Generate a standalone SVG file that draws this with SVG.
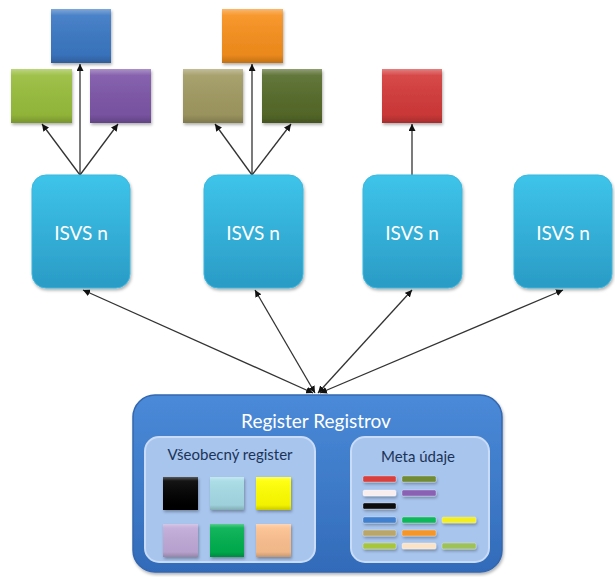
<svg xmlns="http://www.w3.org/2000/svg" width="615" height="577" viewBox="0 0 615 577">
<defs>
<style>
.isvs{fill:url(#gIsvs);stroke:#3bb8df;stroke-width:1;filter:url(#sh)}
.isvsT{font-family:Lato,"Open Sans","Liberation Sans",sans-serif;font-size:19px;fill:#ffffff;text-anchor:middle}
.sq{filter:url(#sh)}
.sheen{fill:url(#gSheen)}
.conn line{stroke:#333333;stroke-width:1.3;fill:none}
.inner{fill:#a8c5ee;stroke:#c9dbf6;stroke-width:2}
.innerT{font-family:Lato,"Open Sans","Liberation Sans",sans-serif;font-size:15px;fill:#1b3458;text-anchor:middle}
.bar{stroke:#ffffff;stroke-opacity:0.35;stroke-width:0.8}
</style>
<linearGradient id="gIsvs" x1="0" y1="0" x2="0" y2="1">
<stop offset="0" stop-color="#3ec4ea"/>
<stop offset="1" stop-color="#2a9bc5"/>
</linearGradient>
<linearGradient id="gBig" x1="0" y1="0" x2="0" y2="1">
<stop offset="0" stop-color="#4a8ad8"/>
<stop offset="1" stop-color="#326bb9"/>
</linearGradient>
<linearGradient id="gSheen" x1="0" y1="0" x2="0" y2="1">
<stop offset="0" stop-color="#ffffff" stop-opacity="0.35"/>
<stop offset="0.12" stop-color="#ffffff" stop-opacity="0.08"/>
<stop offset="0.85" stop-color="#000000" stop-opacity="0.05"/>
<stop offset="1" stop-color="#000000" stop-opacity="0.22"/>
</linearGradient>
<filter id="sh" x="-20%" y="-20%" width="140%" height="140%">
<feDropShadow dx="1" dy="2" stdDeviation="1.8" flood-color="#000000" flood-opacity="0.3"/>
</filter>
<marker id="arr" viewBox="0 0 10 10" refX="10" refY="5" markerWidth="7" markerHeight="7" markerUnits="userSpaceOnUse" orient="auto-start-reverse">
<path d="M0,0 L10,5 L0,10 z" fill="#111111"/>
</marker>
</defs>
<rect width="615" height="577" fill="#ffffff"/>

<g id="connectors" class="conn">
<line x1="80" y1="175" x2="80" y2="64" marker-end="url(#arr)"/>
<line x1="80" y1="175" x2="42" y2="124" marker-end="url(#arr)"/>
<line x1="80" y1="175" x2="118" y2="124" marker-end="url(#arr)"/>
<line x1="252" y1="175" x2="252" y2="64" marker-end="url(#arr)"/>
<line x1="252" y1="175" x2="215" y2="124" marker-end="url(#arr)"/>
<line x1="252" y1="175" x2="291" y2="124" marker-end="url(#arr)"/>
<line x1="412" y1="175" x2="412" y2="124" marker-end="url(#arr)"/>
<line x1="313" y1="393" x2="83" y2="290" marker-start="url(#arr)" marker-end="url(#arr)"/>
<line x1="315" y1="393" x2="255" y2="290" marker-start="url(#arr)" marker-end="url(#arr)"/>
<line x1="318" y1="393" x2="412" y2="290" marker-start="url(#arr)" marker-end="url(#arr)"/>
<line x1="320" y1="393" x2="563" y2="290" marker-start="url(#arr)" marker-end="url(#arr)"/>
</g>

<g id="sq-blue" class="sq"><rect x="51" y="9" width="60" height="54" fill="#3b78c4"/><rect x="51" y="9" width="60" height="54" class="sheen"/></g>
<g id="sq-green" class="sq"><rect x="11" y="69" width="61" height="54" fill="#98bd3c"/><rect x="11" y="69" width="61" height="54" class="sheen"/></g>
<g id="sq-purple" class="sq"><rect x="90" y="69" width="61" height="54" fill="#7d56a8"/><rect x="90" y="69" width="61" height="54" class="sheen"/></g>
<g id="sq-orange" class="sq"><rect x="222" y="9" width="61" height="54" fill="#f7901d"/><rect x="222" y="9" width="61" height="54" class="sheen"/></g>
<g id="sq-khaki" class="sq"><rect x="183" y="69" width="60" height="54" fill="#a19a62"/><rect x="183" y="69" width="60" height="54" class="sheen"/></g>
<g id="sq-dkgreen" class="sq"><rect x="262" y="69" width="60" height="54" fill="#566b2a"/><rect x="262" y="69" width="60" height="54" class="sheen"/></g>
<g id="sq-red" class="sq"><rect x="382" y="69" width="60" height="54" fill="#d43a3a"/><rect x="382" y="69" width="60" height="54" class="sheen"/></g>

<g id="isvs1"><rect class="isvs" x="32" y="175" width="98" height="113" rx="14"/><text class="isvsT" x="81" y="240">ISVS n</text></g>
<g id="isvs2"><rect class="isvs" x="204" y="175" width="99" height="113" rx="14"/><text class="isvsT" x="253" y="240">ISVS n</text></g>
<g id="isvs3"><rect class="isvs" x="363" y="175" width="99" height="113" rx="14"/><text class="isvsT" x="412" y="240">ISVS n</text></g>
<g id="isvs4"><rect class="isvs" x="514" y="175" width="98" height="113" rx="14"/><text class="isvsT" x="563" y="240">ISVS n</text></g>

<g id="register">
<rect x="133" y="395" width="369" height="177" rx="22" fill="url(#gBig)" stroke="#3467b0" stroke-width="1.5" filter="url(#sh)"/>
<text x="316" y="428" font-family="Lato,'Open Sans','Liberation Sans',sans-serif" font-size="19" fill="#ffffff" text-anchor="middle">Register Registrov</text>
</g>

<g id="vseobecny">
<rect class="inner" x="145" y="437" width="170" height="125" rx="14"/>
<text class="innerT" x="230" y="460">Všeobecný register</text>
<g class="sq">
<rect x="163" y="477" width="35" height="33" fill="#000000"/>
<rect x="210" y="477" width="34" height="33" fill="#a5dbe6"/>
<rect x="256" y="477" width="35" height="33" fill="#ffff00"/>
<rect x="163" y="524" width="35" height="33" fill="#c0a9d8"/>
<rect x="210" y="524" width="34" height="33" fill="#00b050"/>
<rect x="256" y="524" width="35" height="33" fill="#fcc08f"/>
</g>
<g>
<rect x="163" y="477" width="35" height="33" class="sheen"/>
<rect x="210" y="477" width="34" height="33" class="sheen"/>
<rect x="256" y="477" width="35" height="33" class="sheen"/>
<rect x="163" y="524" width="35" height="33" class="sheen"/>
<rect x="210" y="524" width="34" height="33" class="sheen"/>
<rect x="256" y="524" width="35" height="33" class="sheen"/>
</g>
</g>

<g id="meta">
<rect class="inner" x="351" y="437" width="138" height="125" rx="14"/>
<text class="innerT" x="418" y="462">Meta údaje</text>
<g class="sq">
<rect class="bar" x="363" y="476" width="33" height="6" rx="1.5" fill="#d8403e"/>
<rect class="bar" x="402" y="476" width="34" height="6" rx="1.5" fill="#6f8a36"/>
<rect class="bar" x="363" y="490" width="33" height="6" rx="1.5" fill="#f8eef0"/>
<rect class="bar" x="402" y="490" width="34" height="6" rx="1.5" fill="#8a62b4"/>
<rect class="bar" x="363" y="503" width="33" height="6" rx="1.5" fill="#111111"/>
<rect class="bar" x="363" y="517" width="33" height="6" rx="1.5" fill="#3f80cf"/>
<rect class="bar" x="402" y="517" width="34" height="6" rx="1.5" fill="#10b85a"/>
<rect class="bar" x="442" y="517" width="34" height="6" rx="1.5" fill="#f2ee20"/>
<rect class="bar" x="363" y="530" width="33" height="6" rx="1.5" fill="#b8a66a"/>
<rect class="bar" x="402" y="530" width="34" height="6" rx="1.5" fill="#f4962a"/>
<rect class="bar" x="363" y="543" width="33" height="6" rx="1.5" fill="#a8c63a"/>
<rect class="bar" x="402" y="543" width="34" height="6" rx="1.5" fill="#fbe3c8"/>
<rect class="bar" x="442" y="543" width="34" height="6" rx="1.5" fill="#9fc258"/>
</g>
</g>
</svg>
